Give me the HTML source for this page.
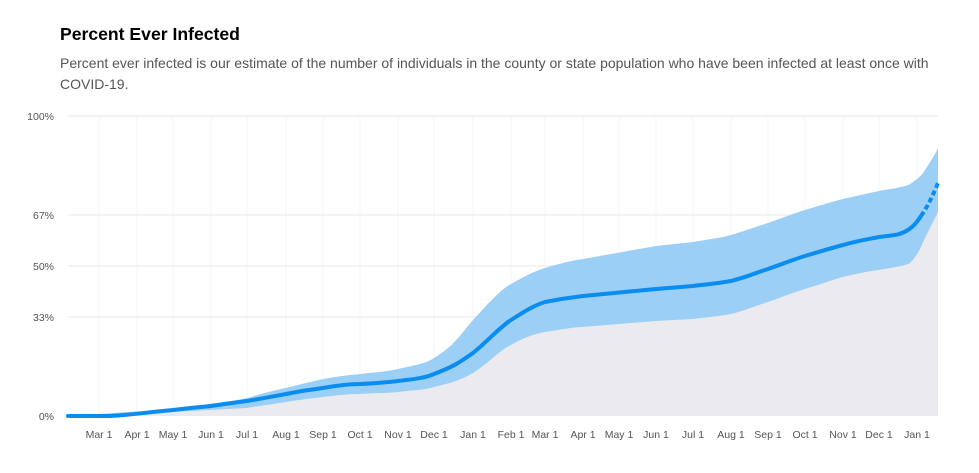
<!DOCTYPE html><html><head><style>
body{margin:0;width:979px;height:473px;background:#fff;font-family:"Liberation Sans",Arial,sans-serif;overflow:hidden}
h1{position:absolute;left:60px;top:24px;margin:0;font-size:17.6px;font-weight:bold;color:#000}
p{position:absolute;left:60px;top:53px;margin:0;width:900px;font-size:14px;line-height:21px;color:#555}
</style></head><body>
<h1>Percent Ever Infected</h1>
<p>Percent ever infected is our estimate of the number of individuals in the county or state population who have been infected at least once with COVID-19.</p>
<svg width="979" height="473" style="position:absolute;left:0;top:0">
<g stroke="#f4f4f6" stroke-width="1">
<line x1="99" y1="116" x2="99" y2="416"/><line x1="137" y1="116" x2="137" y2="416"/><line x1="173" y1="116" x2="173" y2="416"/><line x1="211" y1="116" x2="211" y2="416"/><line x1="247" y1="116" x2="247" y2="416"/><line x1="286" y1="116" x2="286" y2="416"/><line x1="323" y1="116" x2="323" y2="416"/><line x1="360" y1="116" x2="360" y2="416"/><line x1="398" y1="116" x2="398" y2="416"/><line x1="434" y1="116" x2="434" y2="416"/><line x1="473" y1="116" x2="473" y2="416"/><line x1="511" y1="116" x2="511" y2="416"/><line x1="545" y1="116" x2="545" y2="416"/><line x1="583" y1="116" x2="583" y2="416"/><line x1="619" y1="116" x2="619" y2="416"/><line x1="656" y1="116" x2="656" y2="416"/><line x1="693" y1="116" x2="693" y2="416"/><line x1="731" y1="116" x2="731" y2="416"/><line x1="768" y1="116" x2="768" y2="416"/><line x1="805" y1="116" x2="805" y2="416"/><line x1="843" y1="116" x2="843" y2="416"/><line x1="879" y1="116" x2="879" y2="416"/><line x1="917" y1="116" x2="917" y2="416"/>
</g>
<g stroke="#ececee" stroke-width="1.2">
<line x1="68" y1="116" x2="938" y2="116"/><line x1="68" y1="215" x2="938" y2="215"/><line x1="68" y1="266" x2="938" y2="266"/><line x1="68" y1="317" x2="938" y2="317"/>
</g>
<path fill="#ebeaef" d="M68,416 L173,412 C210,410 230,409 247,408 C265,405 275,404 286,402 C305,399 315,398 323,397 C340,395 350,394 360,394 C380,393 390,393 398,392 C415,390 425,390 434,387 C455,382 460,380 473,373 C490,362 500,350 511,345 C525,337 535,334 545,332 C565,329 575,327 583,327 L656,321 L693,319 C710,317 720,316 731,314 C750,309 755,306 768,302 C785,296 795,292 805,289 C825,283 835,279 843,277 C860,273 870,271 879,270 C895,267 905,266 910,263 C918,255 922,245 925,238 C930,228 935,218 938,212 L938,416 Z"/>
<path fill="#9ccff5" d="M68,416 L173,409 C215,403 235,401 247,398 C265,393 275,390 286,388 C305,383 315,381 323,379 C340,376 350,375 360,374 C380,372 390,371 398,369 C415,365 425,364 434,358 C455,345 460,335 473,320 C490,302 500,290 511,284 C525,276 535,271 545,268 C565,262 575,260 583,259 L656,246 L693,242 C710,239 720,238 731,235 C750,229 755,227 768,223 C785,217 795,213 805,210 C825,204 835,201 843,199 C860,195 870,193 879,191 C895,188 905,187 910,184 C918,179 922,175 925,170 C930,162 935,155 938,148 L938,212 C935,218 930,228 925,238 C922,245 918,255 910,263 C905,266 895,267 879,270 C870,271 860,273 843,277 C835,279 825,283 805,289 C795,292 785,296 768,302 C755,306 750,309 731,314 C720,316 710,317 693,319 L656,321 L583,327 C575,327 565,329 545,332 C535,334 525,337 511,345 C500,350 490,362 473,373 C460,380 455,382 434,387 C425,390 415,390 398,392 C390,393 380,393 360,394 C350,394 340,395 323,397 C315,398 305,399 286,402 C275,404 265,405 247,408 C230,409 210,410 173,412 Z"/>
<path fill="none" stroke="#0a8cf0" stroke-width="4" stroke-linecap="round" d="M68,416 L110,416 C130,415 150,412 173,410 C190,408 200,407 211,406 C230,403 240,402 247,401 C265,398 275,396 286,394 C305,390 315,389 323,388 C340,385 350,384 360,384 C380,383 390,382 398,381 C415,379 425,378 434,374 C455,366 460,362 473,353 C490,339 500,327 511,320 C525,311 535,305 545,302 C565,298 575,297 583,296 L656,289 L693,286 C710,284 720,283 731,281 C750,276 755,273 768,269 C785,263 795,259 805,256 C825,250 835,247 843,245 C860,240 870,239 879,237 C895,235 900,235 908,230 C914,226 917,222 921,216"/>
<path fill="none" stroke="#0a8cf0" stroke-width="4" stroke-dasharray="5,3" d="M921,216 C928,206 933,195 938,183"/>
<g font-size="10.5" fill="#555" text-anchor="end">
<text x="54" y="120">100%</text><text x="54" y="219">67%</text><text x="54" y="270">50%</text><text x="54" y="321">33%</text><text x="54" y="420">0%</text>
</g>
<g font-size="10.5" fill="#555" text-anchor="middle">
<text x="99" y="438">Mar 1</text><text x="137" y="438">Apr 1</text><text x="173" y="438">May 1</text><text x="211" y="438">Jun 1</text><text x="247" y="438">Jul 1</text><text x="286" y="438">Aug 1</text><text x="323" y="438">Sep 1</text><text x="360" y="438">Oct 1</text><text x="398" y="438">Nov 1</text><text x="434" y="438">Dec 1</text><text x="473" y="438">Jan 1</text><text x="511" y="438">Feb 1</text><text x="545" y="438">Mar 1</text><text x="583" y="438">Apr 1</text><text x="619" y="438">May 1</text><text x="656" y="438">Jun 1</text><text x="693" y="438">Jul 1</text><text x="731" y="438">Aug 1</text><text x="768" y="438">Sep 1</text><text x="805" y="438">Oct 1</text><text x="843" y="438">Nov 1</text><text x="879" y="438">Dec 1</text><text x="917" y="438">Jan 1</text>
</g>
</svg>
</body></html>
